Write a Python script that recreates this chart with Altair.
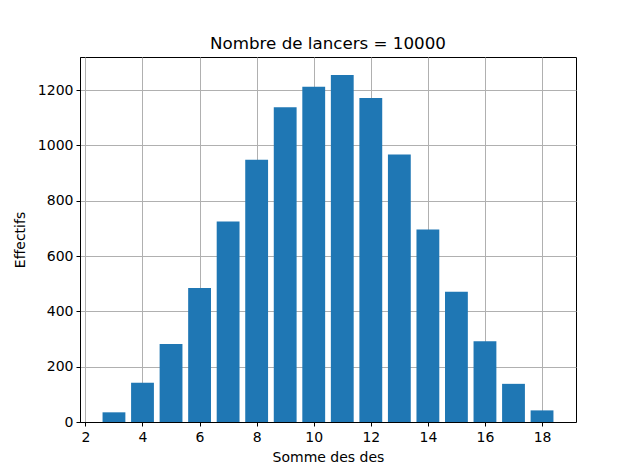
import altair as alt
import pandas as pd

sommes = list(range(3, 19))
effectifs = [35, 142, 282, 485, 725, 948, 1138, 1212, 1255, 1172, 967, 696, 471, 292, 138, 42]
x_ticks = [2, 4, 6, 8, 10, 12, 14, 16, 18]
y_ticks = [0, 200, 400, 600, 800, 1000, 1200]

df = pd.DataFrame({"somme": sommes, "effectif": effectifs})

FONT = "DejaVu Sans"

chart = alt.Chart(df).transform_calculate(
    x0="datum.somme - 0.4", x1="datum.somme + 0.4"
).mark_rect(color="#1f77b4").encode(
    x=alt.X("x0:Q", scale=alt.Scale(domain=[1.81, 19.19], nice=False, zero=False),
            axis=alt.Axis(title="Somme des des", values=x_ticks, grid=True, format="d")),
    x2="x1:Q",
    y=alt.Y("effectif:Q", scale=alt.Scale(domain=[0, 1320], nice=False),
            axis=alt.Axis(title="Effectifs", values=y_ticks, grid=True, format="d")),
).properties(
    width=496, height=365,
    title=alt.TitleParams("Nombre de lancers = 10000", font=FONT, fontSize=16.7,
                          fontWeight="normal", color="black", offset=4),
    autosize=alt.AutoSizeParams(type="none"),
    padding={"left": 72, "top": 49, "right": 56, "bottom": 44},
).configure_axis(
    zindex=1,
    gridColor="#b0b0b0", gridWidth=1, gridOpacity=1,
    domainColor="black", domainWidth=1,
    tickColor="black", tickSize=4, tickWidth=1,
    labelFont=FONT, labelFontSize=14, labelColor="black", labelPadding=3,
    titleFont=FONT, titleFontSize=14, titleFontWeight="normal", titleColor="black",
).configure_axisY(titlePadding=10).configure_axisX(titlePadding=6, labelPadding=4).configure_view(
    stroke="black", strokeWidth=1
)

chart.save("out.html", embed_options={"renderer": "svg", "actions": False})
